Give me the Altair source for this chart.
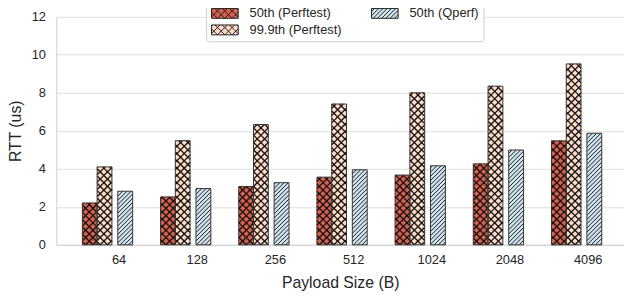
import altair as alt
import pandas as pd
import numpy as np

# ---- data ----
payload = ["64", "128", "256", "512", "1024", "2048", "4096"]
series = ["50th (Perftest)", "99.9th (Perftest)", "50th (Qperf)"]
perf50 = [2.2, 2.52, 3.07, 3.56, 3.67, 4.26, 5.47]
perf999 = [4.1, 5.48, 6.33, 7.41, 8.0, 8.35, 9.52]
qperf50 = [2.82, 2.96, 3.27, 3.95, 4.16, 4.99, 5.87]
colors = ["#d6604d", "#fddbc7", "#d1e5f0"]
yticks = [0, 2, 4, 6, 8, 10, 12]

# ---- layout / scale geometry ----
W, H = 575, 231
PXU = 79.2                 # pixels per category step
XMIN = -0.7955
XMAX = XMIN + W / PXU
YMAX = 12
PYU = H / YMAX

slots = {
    "50th (Perftest)": (-0.463, -0.274),
    "99.9th (Perftest)": (-0.274, -0.085),
    "50th (Qperf)": (-0.01, 0.18),
}
hatch_kind = {"50th (Perftest)": "x", "99.9th (Perftest)": "x", "50th (Qperf)": "/"}
hatch_space = {"x": 7.4, "/": 4.3}
values = {"50th (Perftest)": perf50, "99.9th (Perftest)": perf999, "50th (Qperf)": qperf50}


def hatch_segments(px0, px1, h, kind, s):
    segs = []
    if kind in ("x", "/"):
        k0 = int(np.floor(-px1 / s)) - 1
        k1 = int(np.ceil((h - px0) / s)) + 1
        for k in range(k0, k1 + 1):
            c = k * s
            a = max(px0, -c)
            b = min(px1, h - c)
            if b - a > 0.3:
                segs.append((a, a + c, b, b + c))
    if kind == "x":
        k0 = int(np.floor(px0 / s)) - 1
        k1 = int(np.ceil((px1 + h) / s)) + 1
        for k in range(k0, k1 + 1):
            c = k * s
            a = max(px0, c - h)
            b = min(px1, c)
            if b - a > 0.3:
                segs.append((a, c - a, b, c - b))
    return segs


bar_rows, hatch_rows = [], []
for name in series:
    o0, o1 = slots[name]
    for i, v in enumerate(values[name]):
        x0, x1 = i + o0, i + o1
        bar_rows.append({"series": name, "payload": payload[i], "x0": x0, "x1": x1,
                         "xc": (x0 + x1) / 2, "v": v})
        kind = hatch_kind[name]
        px0, px1 = (x0 - XMIN) * PXU, (x1 - XMIN) * PXU
        for (ax, ay, bx, by) in hatch_segments(px0, px1, v * PYU, kind, hatch_space[kind]):
            hatch_rows.append({"series": name, "kind": kind,
                               "hx0": ax / PXU + XMIN, "hy0": ay / PYU,
                               "hx1": bx / PXU + XMIN, "hy1": by / PYU})

bars = pd.DataFrame(bar_rows)
hatches = pd.DataFrame(hatch_rows)


# ---- legend symbol shapes (wide patch with hatch), unit = r = 7px ----
def legend_path(kind):
    r = 7.0
    left, right, hh = -6.0, 21.0, 10.0
    parts = [f"M{left/r:.3f},{-hh/2/r:.3f}H{right/r:.3f}V{hh/2/r:.3f}H{left/r:.3f}Z"]
    for (ax, ay, bx, by) in hatch_segments(left, right, hh, kind, hatch_space[kind]):
        parts.append(f"M{ax/r:.3f},{(hh/2-ay)/r:.3f}L{bx/r:.3f},{(hh/2-by)/r:.3f}")
    return "".join(parts)


shapes = [legend_path(hatch_kind[s]) for s in series]

xscale = alt.Scale(domain=[XMIN, XMAX], nice=False, zero=False)
yscale = alt.Scale(domain=[0, YMAX], nice=False)
cscale = alt.Scale(domain=series, range=colors)

label_arr = "[" + ",".join(f"'{p}'" for p in payload) + "]"

x_axis = alt.Axis(values=list(range(len(payload))), labelExpr=f"{label_arr}[round(datum.value)]",
                  grid=False, ticks=False, tickSize=0, labelPadding=9, titlePadding=8,
                  title="Payload Size (B)", domain=True, domainColor="#cccccc")
y_axis = alt.Axis(values=yticks, title="RTT (us)", grid=True, ticks=False, tickSize=0,
                  labelPadding=11, titlePadding=8, domain=True, domainColor="#cccccc")

legend = alt.Legend(
    title=None, orient="none", legendX=151.7, legendY=-15.2, columns=2,
    columnPadding=27, rowPadding=2, symbolSize=196, labelOffset=25,
    labelFontSize=13, labelFont="Liberation Sans", labelColor="#262626",
    fillColor="white", strokeColor="#cccccc", cornerRadius=3, padding=4,
    symbolStrokeWidth=1, symbolOpacity=1,
)

base = alt.Chart(bars)

fill_layer = base.mark_rect(strokeWidth=0).encode(
    x=alt.X("x0:Q", scale=xscale, axis=x_axis),
    x2="x1:Q",
    y=alt.Y("v:Q", scale=yscale, axis=y_axis),
    y2=alt.datum(0),
    color=alt.Color("series:N", scale=cscale, legend=None),
)

hatch_cross = alt.Chart(hatches).transform_filter("datum.kind == 'x'").mark_rule(
    color="#111111", strokeWidth=1.3
).encode(
    x=alt.X("hx0:Q", scale=xscale, axis=x_axis),
    x2="hx1:Q",
    y=alt.Y("hy0:Q", scale=yscale, axis=y_axis),
    y2="hy1:Q",
)

hatch_stripe = alt.Chart(hatches).transform_filter("datum.kind == '/'").mark_rule(
    color="#1a1a1a", strokeWidth=1.0
).encode(
    x=alt.X("hx0:Q", scale=xscale, axis=x_axis),
    x2="hx1:Q",
    y=alt.Y("hy0:Q", scale=yscale, axis=y_axis),
    y2="hy1:Q",
)

outline = base.mark_rect(fillOpacity=0, stroke="#333333", strokeWidth=1).encode(
    x=alt.X("x0:Q", scale=xscale, axis=x_axis),
    x2="x1:Q",
    y=alt.Y("v:Q", scale=yscale, axis=y_axis),
    y2=alt.datum(0),
)

legend_pts = base.mark_point(filled=True, size=0, opacity=1, strokeWidth=1).encode(
    x=alt.X("xc:Q", scale=xscale, axis=x_axis),
    y=alt.Y("v:Q", scale=yscale, axis=y_axis),
    fill=alt.Fill("series:N", scale=cscale, legend=legend),
    stroke=alt.Stroke("series:N", scale=alt.Scale(domain=series, range=["#222222"] * 3),
                      legend=legend),
    shape=alt.Shape("series:N", scale=alt.Scale(domain=series, range=shapes), legend=legend),
)

chart = alt.layer(fill_layer, hatch_cross, hatch_stripe, outline, legend_pts).resolve_scale(
    color="independent", fill="independent", shape="independent", stroke="independent"
).properties(
    width=W, height=H,
    autosize=alt.AutoSizeParams(type="none"),
    padding={"left": 49, "top": 7, "right": 0, "bottom": 54},
).configure_view(stroke=None).configure_axis(
    labelFont="Liberation Sans", titleFont="Liberation Sans",
    labelFontSize=13, titleFontSize=16, titleFontWeight="normal",
    labelColor="#262626", titleColor="#262626", gridColor="#dddddd", gridWidth=1,
).configure_legend(symbolStrokeWidth=1, symbolOpacity=1)

chart.save("out.html", embed_options={"renderer": "svg", "actions": False})
